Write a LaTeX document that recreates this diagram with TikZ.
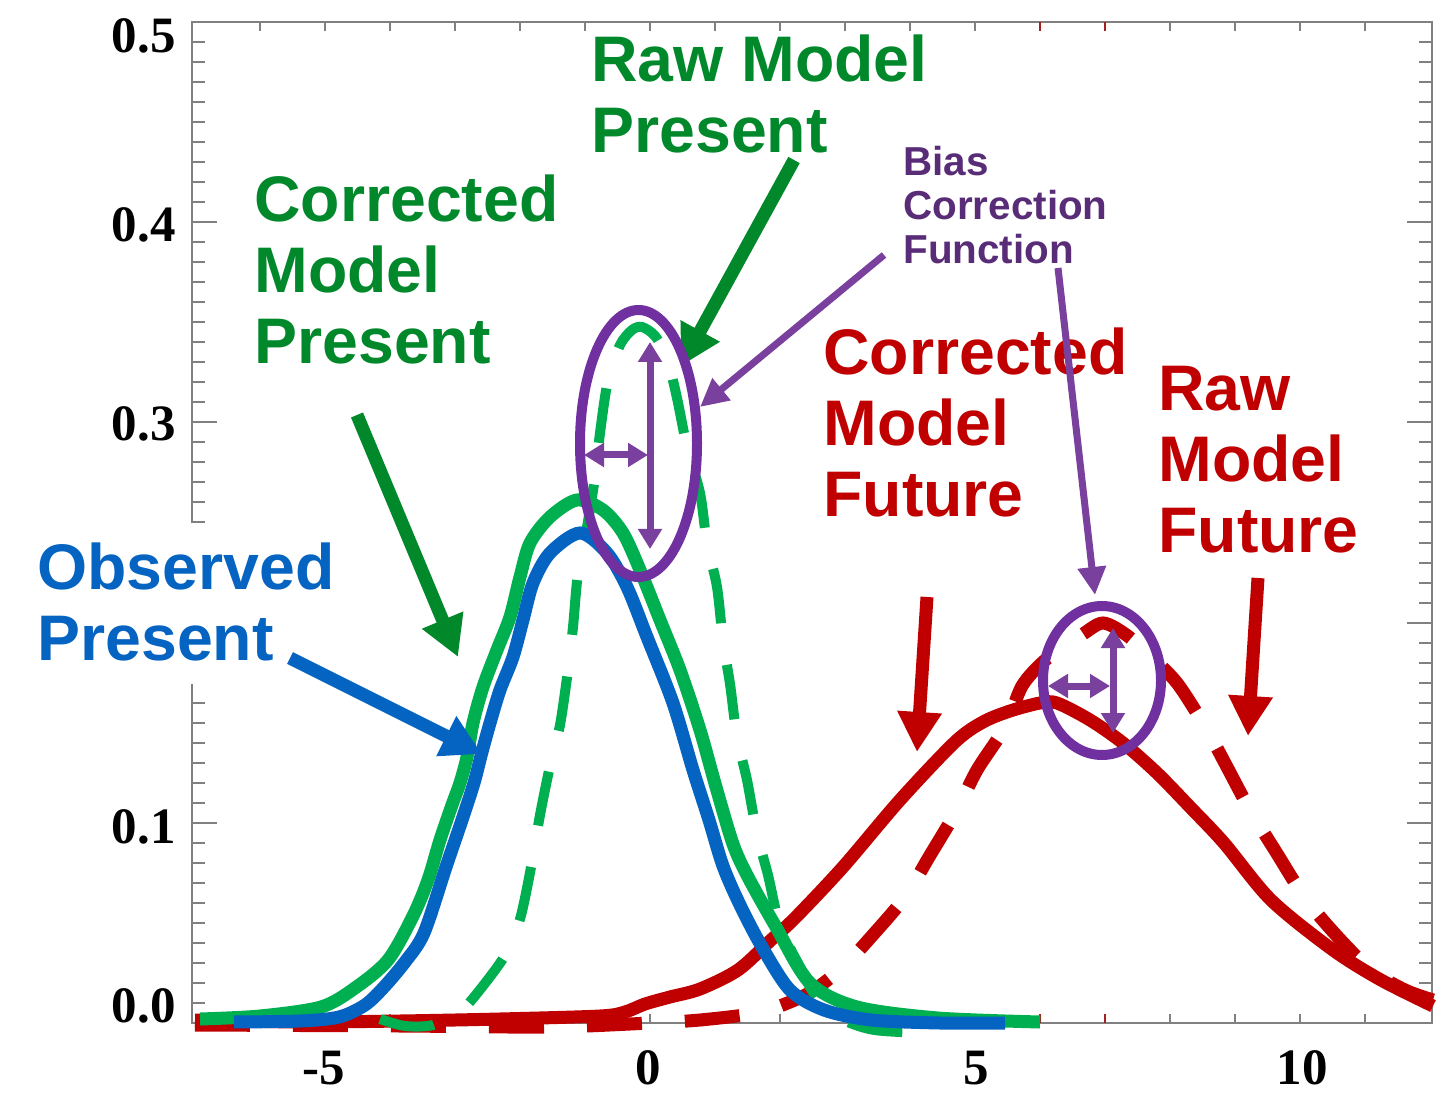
\documentclass[tikz,border=0pt]{standalone}
\usepackage{fontspec}
\setmainfont{Liberation Serif}
\newfontfamily\lsans{Liberation Sans}
\usetikzlibrary{arrows.meta}
\definecolor{dgreen}{RGB}{0,136,43}
\definecolor{lgreen}{RGB}{0,176,80}
\definecolor{oblue}{RGB}{5,99,193}
\definecolor{dred}{RGB}{192,0,0}
\definecolor{tickred}{RGB}{170,30,30}
\definecolor{epurple}{RGB}{112,48,160}
\definecolor{apurple}{RGB}{122,64,158}
\definecolor{tpurple}{RGB}{88,44,118}
\definecolor{axgray}{RGB}{128,128,128}
\begin{document}
\begin{tikzpicture}[x=0.5pt,y=-0.5pt,
  frame/.style={draw=axgray,line width=1.2pt},
  tickmark/.style={draw=axgray,line width=1pt},
  ticklbl/.style={font=\bfseries\fontsize{25.5}{25.5}\selectfont,inner sep=0pt},
  lbl/.style={font=\lsans\bfseries\fontsize{32.2}{35.5}\selectfont,inner sep=0pt,anchor=base west},
  smalllbl/.style={font=\lsans\bfseries\fontsize{20.2}{22}\selectfont,inner sep=0pt,anchor=base west},
  curve/.style={line width=6.5pt,smooth,tension=0.5},
  dcurve/.style={line width=5pt,smooth,tension=0.5,dash pattern=on 27.5pt off 21pt},
  rdcurve/.style={line width=6.5pt,smooth,tension=0.5,dash pattern=on 27.5pt off 21.5pt},
  bigarrow/.style={line width=6.5pt,-{Triangle[length=20pt,width=21pt]}},
  thinarrow/.style={draw=apurple,line width=3.5pt,-{Triangle[length=14pt,width=13.5pt]}},
  dblarrow/.style={draw=apurple,line width=3.5pt,{Triangle[length=10pt,width=11.5pt]}-{Triangle[length=10pt,width=11.5pt]}},
  ell/.style={draw=epurple,line width=5pt}]
\useasboundingbox (0,0) rectangle (1446,1096);
\fill[white] (0,0) rectangle (1446,1096);
% frame and ticks
\draw[frame] (192,22) rectangle (1432,1023);
\foreach \k in {1,...,49}{
  \draw[tickmark] (192,{1023-\k*20.02}) -- ++(13,0);
  \draw[tickmark] (1432,{1023-\k*20.02}) -- ++(-13,0);
}
\foreach \k in {1,...,4}{
  \draw[tickmark] (192,{1023-\k*200.2}) -- ++(25,0);
  \draw[tickmark] (1432,{1023-\k*200.2}) -- ++(-25,0);
}
\foreach \u in {-6,...,5,8,9,10,11}{
  \draw[tickmark] ({650+65*\u},22) -- ++(0,9);
  \draw[tickmark] ({650+65*\u},1023) -- ++(0,-9);
}
\foreach \u in {6,7}{
  \draw[tickmark,draw=tickred] ({650+65*\u},22) -- ++(0,9);
  \draw[tickmark,draw=tickred] ({650+65*\u},1023) -- ++(0,-9);
}
% tick labels
\node[ticklbl,anchor=base east] (y5) at (176,53) {0.5};
\node[ticklbl,anchor=base east] (y4) at (176,242) {0.4};
\node[ticklbl,anchor=base east] (y3) at (176,441) {0.3};
\node[ticklbl,anchor=base east] (y1) at (176,843) {0.1};
\node[ticklbl,anchor=base east] (y0) at (176,1022) {0.0};
\node[ticklbl,anchor=base] (xm5) at (324,1084) {-5};
\node[ticklbl,anchor=base] (x0) at (648,1084) {0};
\node[ticklbl,anchor=base] (x5) at (976,1084) {5};
\node[ticklbl,anchor=base] (x10) at (1302,1084) {10};
% white box behind observed label
\fill[white] (25,523) rectangle (345,684);
% curves
\draw[rdcurve,draw=dred] plot coordinates {(195,1025) (400,1026) (550,1027) (650,1023) (700,1020) (757,1013) (790,1002) (814,990) (843,967) (871,937) (905,897) (929,857) (957,810) (977,770) (1005,727) (1022,686) (1043,662) (1063,648) (1083,634) (1103,623) (1125,634) (1147,653) (1177,683) (1207,730) (1227,767) (1250,810) (1276,852) (1305,898) (1336,935) (1371,970) (1405,990) (1433,1000)};
\draw[curve,draw=dred] plot coordinates {(195,1020) (300,1022) (400,1021) (500,1019) (600,1016) (625,1012) (645,1004) (670,997) (700,989) (738,970) (771,940) (795,918) (843,867) (900,800) (955,742) (983,722) (1010,711) (1040,703) (1057,703) (1090,720) (1123,743) (1157,773) (1190,807) (1224,843) (1271,900) (1333,950) (1381,980) (1433,1006)};
\draw[dcurve,draw=lgreen] plot coordinates {(380,1019) (405,1026) (433,1025) (455,1012) (469,1003) (504,957) (520,919) (532,862) (540,815) (550,766) (560,725) (568,670) (573,627) (578,573) (587,527) (595,477) (600,433) (608,380) (620,345) (632,330) (642,327) (655,336) (667,358) (677,398) (687,447) (700,493) (707,543) (717,587) (723,641) (730,684) (737,737) (747,780) (757,834) (768,875) (780,926) (800,967) (815,995) (840,1018) (869,1029) (900,1032) (924,1032)};
\draw[curve,draw=lgreen] plot coordinates {(200,1019) (260,1016) (321,1007) (355,988) (388,960) (413,916) (428,880) (440,840) (452,805) (460,783) (467,757) (473,723) (483,687) (497,650) (510,617) (520,577) (530,543) (550,517) (577,500) (603,510) (623,533) (640,570) (660,620) (680,670) (700,730) (716,787) (733,844) (748,877) (776,927) (810,983) (857,1007) (938,1018) (1040,1022)};
\draw[curve,draw=oblue] plot coordinates {(234,1022) (300,1021) (339,1017) (365,1005) (384,987) (405,962) (424,933) (446,867) (462,820) (474,783) (482,752) (490,723) (500,690) (513,657) (523,620) (533,583) (550,553) (580,533) (607,553) (627,587) (647,637) (673,703) (693,770) (709,820) (723,866) (740,905) (762,947) (790,990) (824,1010) (871,1020) (940,1023) (1005,1023)};
% labels
\node[lbl,text=dgreen] (rmp) at (591,82) {\begin{tabular}[t]{@{}l@{}}Raw Model\\Present\end{tabular}};
\node[lbl,text=dgreen] (cmp) at (254,222) {\begin{tabular}[t]{@{}l@{}}Corrected\\Model\\Present\end{tabular}};
\node[lbl,text=oblue] (obs) at (37,589) {\begin{tabular}[t]{@{}l@{}}Observed\\Present\end{tabular}};
\node[lbl,text=dred] (cmf) at (823,375) {\begin{tabular}[t]{@{}l@{}}Corrected\\Model\\Future\end{tabular}};
\node[lbl,text=dred] (rmf) at (1158,411) {\begin{tabular}[t]{@{}l@{}}Raw\\Model\\Future\end{tabular}};
\node[smalllbl,text=tpurple] (bcf) at (903,176) {\begin{tabular}[t]{@{}l@{}}Bias\\Correction\\Function\end{tabular}};
% arrow end points
\coordinate (gA1) at (794,160); \coordinate (gT1) at (681,366);
\coordinate (gA2) at (357,415); \coordinate (gT2) at (458,657);
\coordinate (bA) at (290,658);  \coordinate (bT) at (482,754);
\coordinate (rA1) at (927,597); \coordinate (rT1) at (917,752);
\coordinate (rA2) at (1258,578); \coordinate (rT2) at (1248,736);
\coordinate (pA1) at (884,255); \coordinate (pT1) at (700,407);
\coordinate (pA2) at (1058,268); \coordinate (pT2) at (1095,595);
\draw[bigarrow,draw=dgreen,fill=dgreen] (gA1) -- (gT1);
\draw[bigarrow,draw=dgreen,fill=dgreen] (gA2) -- (gT2);
\draw[bigarrow,draw=oblue,fill=oblue] (bA) -- (bT);
\draw[bigarrow,draw=dred,fill=dred] (rA1) -- (rT1);
\draw[bigarrow,draw=dred,fill=dred] (rA2) -- (rT2);
\draw[thinarrow,fill=apurple] (pA1) -- (pT1);
\draw[thinarrow,fill=apurple] (pA2) -- (pT2);
% ellipses
\draw[ell] (638.5,443.5) ellipse [x radius=58.5,y radius=133.5];
\draw[ell] (1102,680.5) ellipse [x radius=59,y radius=74.5];
% double arrows
\coordinate (v1a) at (650,342); \coordinate (v1b) at (650,549);
\coordinate (h1a) at (584,455); \coordinate (h1b) at (648,455);
\coordinate (v2a) at (1113,628); \coordinate (v2b) at (1113,733);
\coordinate (h2a) at (1048,686); \coordinate (h2b) at (1110,686);
\draw[dblarrow,fill=apurple] (v1a) -- (v1b);
\draw[dblarrow,fill=apurple] (h1a) -- (h1b);
\draw[dblarrow,fill=apurple] (v2a) -- (v2b);
\draw[dblarrow,fill=apurple] (h2a) -- (h2b);
\end{tikzpicture}
\end{document}
